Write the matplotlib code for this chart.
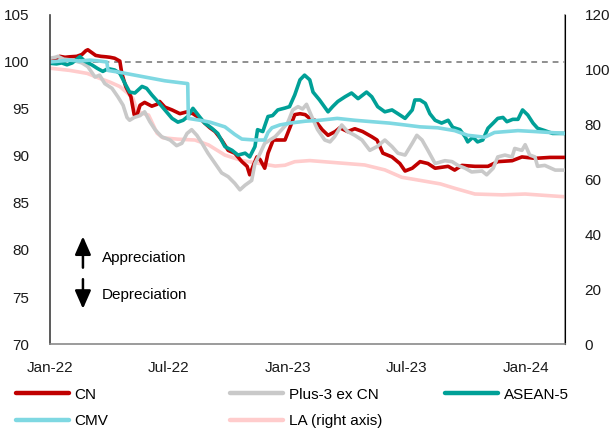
import matplotlib
matplotlib.use("Agg")
import matplotlib.pyplot as plt
import matplotlib.dates as mdates
import pandas as pd
from matplotlib.lines import Line2D

plt.rcParams["font.family"] = ["Liberation Sans", "DejaVu Sans"]
plt.rcParams["font.size"] = 11

# CN (index, left axis)
cn_dates = ["2022-01-01", "2022-01-09", "2022-01-16", "2022-01-24", "2022-01-31", "2022-02-11",
            "2022-02-19", "2022-02-25", "2022-02-28", "2022-03-06", "2022-03-12", "2022-03-20",
            "2022-03-28", "2022-04-03", "2022-04-10", "2022-04-18", "2022-04-21", "2022-04-27",
            "2022-05-05", "2022-05-10", "2022-05-14", "2022-05-19", "2022-05-26", "2022-06-06",
            "2022-06-14", "2022-06-18", "2022-06-26", "2022-07-07", "2022-07-19", "2022-07-30",
            "2022-08-08", "2022-08-19", "2022-08-26", "2022-09-03", "2022-09-11", "2022-09-21",
            "2022-10-01", "2022-10-11", "2022-10-22", "2022-10-30", "2022-11-03", "2022-11-08",
            "2022-11-14", "2022-11-19", "2022-11-26", "2022-12-01", "2022-12-09", "2022-12-16",
            "2022-12-27", "2023-01-04", "2023-01-11", "2023-01-19", "2023-01-27", "2023-02-03",
            "2023-02-11", "2023-02-22", "2023-03-03", "2023-03-14", "2023-03-21", "2023-04-02",
            "2023-04-13", "2023-04-25", "2023-05-09", "2023-05-17", "2023-05-26", "2023-06-09",
            "2023-06-21", "2023-06-29", "2023-07-10", "2023-07-22", "2023-08-03", "2023-08-14",
            "2023-09-03", "2023-09-13", "2023-09-24", "2023-10-14", "2023-11-03", "2023-11-18",
            "2023-12-10", "2023-12-25", "2024-01-14", "2024-02-06", "2024-02-29"]
cn_values = [100.1, 100.3, 100.6, 100.5, 100.55, 100.6, 100.8, 101.2, 101.3, 101.0, 100.7, 100.6,
             100.55, 100.5, 100.4, 100.1, 98.8, 97.4, 96.3, 94.4, 94.3, 95.4, 95.7, 95.3,
             95.5, 95.8, 95.2, 94.9, 94.5, 94.7, 94.5, 94.0, 93.5, 93.0, 92.6, 91.7,
             90.6, 90.3, 89.4, 88.9, 88.0, 88.9, 89.9, 89.6, 88.7, 90.3, 91.7, 91.7,
             91.7, 93.1, 94.4, 94.5, 94.4, 94.0, 93.8, 92.8, 92.2, 92.6, 93.0, 92.6,
             92.9, 92.6, 92.05, 91.7, 90.3, 89.9, 89.2, 88.4, 88.7, 89.4, 89.2, 88.7,
             88.9, 88.5, 89.0, 88.9, 88.9, 89.4, 89.5, 89.9, 89.75, 89.85, 89.85]

# Plus-3 ex CN (index, left axis)
plus3_dates = ["2022-01-01", "2022-01-09", "2022-01-13", "2022-01-22", "2022-02-04", "2022-02-19",
               "2022-02-28", "2022-03-11", "2022-03-18", "2022-03-26", "2022-04-06", "2022-04-15",
               "2022-04-23", "2022-04-29", "2022-05-03", "2022-05-10", "2022-05-19", "2022-05-26",
               "2022-06-03", "2022-06-11", "2022-06-21", "2022-07-04", "2022-07-14", "2022-07-22",
               "2022-07-30", "2022-08-06", "2022-08-14", "2022-08-22", "2022-08-31", "2022-09-11",
               "2022-09-21", "2022-10-01", "2022-10-11", "2022-10-19", "2022-10-27", "2022-11-06",
               "2022-11-11", "2022-11-19", "2022-11-26", "2022-12-04", "2022-12-12", "2022-12-22",
               "2022-12-31", "2023-01-08", "2023-01-16", "2023-01-23", "2023-01-29", "2023-02-06",
               "2023-02-15", "2023-02-26", "2023-03-06", "2023-03-13", "2023-03-24", "2023-04-02",
               "2023-04-13", "2023-04-24", "2023-05-06", "2023-05-17", "2023-05-29", "2023-06-09",
               "2023-06-18", "2023-06-29", "2023-07-10", "2023-07-17", "2023-07-25", "2023-08-03",
               "2023-08-14", "2023-08-29", "2023-09-09", "2023-09-18", "2023-09-29", "2023-10-09",
               "2023-10-25", "2023-11-01", "2023-11-11", "2023-11-18", "2023-11-29", "2023-12-10",
               "2023-12-14", "2023-12-25", "2023-12-30", "2024-01-06", "2024-01-14", "2024-01-18",
               "2024-01-29", "2024-02-14", "2024-02-29"]
plus3_values = [100.4, 100.5, 100.6, 100.3, 100.2, 99.9, 99.5, 98.4, 98.6, 97.7, 97.2, 96.3,
                95.4, 94.1, 93.8, 94.1, 94.3, 94.7, 93.65, 92.8, 92.05, 91.7, 91.1, 91.35,
                92.4, 92.8, 92.2, 91.35, 90.3, 89.2, 88.2, 87.8, 87.1, 86.4, 86.9, 87.4,
                89.2, 90.3, 91.35, 91.7, 92.05, 92.8, 93.5, 94.9, 95.25, 95.0, 95.5, 94.2,
                92.8, 91.7, 91.5, 92.05, 93.3, 92.6, 92.2, 91.7, 90.6, 91.0, 91.7, 91.0,
                90.3, 90.1, 91.35, 92.2, 91.7, 90.6, 89.2, 89.5, 89.4, 89.0, 88.7, 88.3,
                88.4, 88.0, 88.7, 89.9, 90.1, 89.9, 90.8, 90.6, 91.2, 90.1, 89.9, 88.9,
                89.0, 88.5, 88.5]

# ASEAN-5 (index, left axis)
asean_dates = ["2022-01-01", "2022-01-11", "2022-01-19", "2022-01-27", "2022-02-04", "2022-02-16",
               "2022-02-23", "2022-03-06", "2022-03-15", "2022-03-23", "2022-03-31", "2022-04-10",
               "2022-04-18", "2022-04-26", "2022-05-03", "2022-05-11", "2022-05-22", "2022-05-29",
               "2022-06-06", "2022-06-15", "2022-06-26", "2022-07-07", "2022-07-16", "2022-07-24",
               "2022-07-31", "2022-08-08", "2022-08-19", "2022-08-26", "2022-09-06", "2022-09-15",
               "2022-09-26", "2022-10-07", "2022-10-16", "2022-10-27", "2022-11-03", "2022-11-11",
               "2022-11-15", "2022-11-23", "2022-12-01", "2022-12-08", "2022-12-16", "2022-12-27",
               "2023-01-03", "2023-01-11", "2023-01-19", "2023-01-26", "2023-02-03", "2023-02-08",
               "2023-02-18", "2023-03-03", "2023-03-10", "2023-03-18", "2023-03-29", "2023-04-08",
               "2023-04-18", "2023-05-01", "2023-05-09", "2023-05-18", "2023-05-29", "2023-06-09",
               "2023-06-18", "2023-06-29", "2023-07-10", "2023-07-14", "2023-07-22", "2023-07-30",
               "2023-08-06", "2023-08-14", "2023-08-24", "2023-09-03", "2023-09-10", "2023-09-21",
               "2023-09-29", "2023-10-03", "2023-10-11", "2023-10-18", "2023-10-26", "2023-11-03",
               "2023-11-11", "2023-11-18", "2023-11-26", "2023-12-02", "2023-12-11", "2023-12-19",
               "2023-12-26", "2024-01-03", "2024-01-11", "2024-01-18", "2024-01-29", "2024-02-10",
               "2024-02-29"]
asean_values = [99.86, 99.8, 99.9, 99.7, 99.9, 100.57, 100.1, 99.7, 99.3, 99.0, 99.3, 99.15,
                98.8, 97.7, 96.8, 96.7, 97.4, 97.2, 96.5, 95.8, 94.9, 94.0, 93.6, 93.8,
                94.2, 95.07, 94.1, 93.5, 92.95, 92.4, 91.0, 90.6, 90.1, 90.3, 89.9, 91.0,
                92.8, 92.6, 94.2, 94.3, 94.9, 95.1, 95.25, 96.5, 98.1, 98.6, 98.1, 96.8,
                95.96, 94.7, 95.25, 95.8, 96.3, 96.7, 96.1, 96.8, 96.3, 95.25, 94.7, 94.9,
                94.5, 94.0, 94.9, 95.96, 95.96, 95.6, 94.5, 93.8, 93.5, 93.8, 93.05, 92.8,
                92.05, 91.5, 92.0, 91.5, 91.7, 92.95, 93.5, 94.0, 94.1, 93.65, 93.9, 93.9,
                94.9, 94.36, 93.5, 92.95, 92.7, 92.4, 92.4]

# CMV (index, left axis)
cmv_dates = ["2022-01-01", "2022-01-16", "2022-01-31", "2022-02-16", "2022-03-03", "2022-03-18",
             "2022-03-29", "2022-03-31", "2022-04-18", "2022-05-11", "2022-06-03", "2022-06-26",
             "2022-07-19", "2022-07-31", "2022-08-01", "2022-08-19", "2022-09-03", "2022-09-26",
             "2022-10-11", "2022-10-22", "2022-11-11", "2022-11-26", "2022-12-01", "2022-12-07",
             "2022-12-19", "2023-01-04", "2023-01-27", "2023-02-18", "2023-03-17", "2023-04-13",
             "2023-05-09", "2023-06-05", "2023-06-29", "2023-07-22", "2023-08-18", "2023-09-13",
             "2023-10-03", "2023-10-29", "2023-11-13", "2023-12-19", "2024-01-14", "2024-02-06",
             "2024-02-29"]
cmv_values = [100.0, 100.1, 100.2, 100.1, 100.2, 100.1, 100.0, 99.1, 98.9, 98.6, 98.3, 98.0,
              97.8, 97.7, 94.0, 93.8, 93.6, 93.1, 92.3, 91.8, 91.7, 91.7, 92.5, 93.0,
              93.3, 93.5, 93.7, 93.8, 94.0, 93.8, 93.65, 93.5, 93.3, 93.1, 93.0, 92.7,
              92.2, 92.0, 92.5, 92.7, 92.6, 92.5, 92.4]

# LA (index, right axis)
la_dates = ["2022-01-01", "2022-01-31", "2022-02-27", "2022-03-18", "2022-04-03", "2022-04-18",
            "2022-04-30", "2022-05-08", "2022-05-15", "2022-06-01", "2022-06-07", "2022-06-14",
            "2022-06-23", "2022-07-16", "2022-08-11", "2022-09-01", "2022-09-26", "2022-10-22",
            "2022-11-19", "2022-12-12", "2022-12-27", "2023-01-11", "2023-02-03", "2023-03-17",
            "2023-04-28", "2023-05-29", "2023-06-24", "2023-07-19", "2023-08-22", "2023-09-13",
            "2023-10-14", "2023-11-25", "2023-12-30", "2024-01-29", "2024-02-29"]
la_values = [100.6, 99.8, 98.7, 96.9, 95.5, 93.9, 91.5, 89.6, 84.7, 83.5, 80.5, 76.9,
             75.2, 74.7, 74.4, 72.6, 68.9, 66.9, 65.8, 64.9, 65.2, 66.5, 66.9, 66.1,
             65.3, 63.5, 60.8, 59.8, 58.4, 56.8, 54.7, 54.4, 54.7, 54.2, 53.7]

tick_dates = ["2022-01-01", "2022-07-01", "2023-01-01", "2023-07-01", "2024-01-01"]
x_start, x_end = "2022-01-01", "2024-02-29"

C_CN = "#C00000"
C_PLUS3 = "#C9C9C9"
C_ASEAN = "#00A097"
C_CMV = "#7FD8E2"
C_LA = "#FFCCCC"
LW = 2.6

fig = plt.figure(figsize=(6.11, 4.32), dpi=100)
ax = fig.add_axes([0.0818, 0.2037, 0.8429, 0.7616])
ax2 = ax.twinx()
ax.set_zorder(ax2.get_zorder() + 1)
ax.patch.set_visible(False)

ax2.plot(pd.to_datetime(la_dates), la_values, color=C_LA, lw=LW)
ax.plot(pd.to_datetime(cn_dates), cn_values, color=C_CN, lw=LW)
ax.plot(pd.to_datetime(plus3_dates), plus3_values, color=C_PLUS3, lw=LW)
ax.plot(pd.to_datetime(asean_dates), asean_values, color=C_ASEAN, lw=LW)
ax.plot(pd.to_datetime(cmv_dates), cmv_values, color=C_CMV, lw=LW)
ax.axhline(100, color="#8f8f8f", lw=1.4, ls=(0, (3, 2.5)), zorder=0.5)

ax.set_xlim(pd.Timestamp(x_start), pd.Timestamp(x_end))
ax.set_ylim(70, 105)
ax2.set_ylim(0, 120)
ax.set_yticks(range(70, 106, 5))
ax2.set_yticks(range(0, 121, 20))
ax.set_xticks(pd.to_datetime(tick_dates))
ax.xaxis.set_major_formatter(mdates.DateFormatter("%b-%y"))

for a in (ax, ax2):
    a.spines["top"].set_visible(False)
    a.tick_params(length=0, labelsize=11, colors="#1a1a1a")
ax.tick_params(axis="y", pad=15)
ax.tick_params(axis="x", pad=12)
ax2.tick_params(axis="y", pad=14)
ax.spines["left"].set_color("#404040")
ax.spines["bottom"].set_color("#8a8a8a")
ax2.spines["right"].set_color("#8a8a8a")
ax2.spines["left"].set_visible(False)
ax2.spines["bottom"].set_visible(False)
for s in ("left", "bottom"):
    ax.spines[s].set_linewidth(1.2)
ax2.spines["right"].set_linewidth(1.2)

# Direction-of-change annotation
arrow_kw = dict(arrowstyle="-|>,head_length=0.5,head_width=0.22", color="black",
                lw=1.8, mutation_scale=22, shrinkA=0, shrinkB=0)
ax.annotate("", xy=(0.064, 0.327), xytext=(0.064, 0.232), xycoords="axes fraction",
            arrowprops=arrow_kw)
ax.annotate("", xy=(0.064, 0.107), xytext=(0.064, 0.197), xycoords="axes fraction",
            arrowprops=arrow_kw)
ax.text(0.101, 0.261, "Appreciation", transform=ax.transAxes, fontsize=11, va="center", ha="left")
ax.text(0.101, 0.149, "Depreciation", transform=ax.transAxes, fontsize=11, va="center", ha="left")

# Legend laid out in three columns beneath the plot
def handle(c):
    return Line2D([], [], color=c, lw=3.2, solid_capstyle="round")

legend_kw = dict(frameon=False, fontsize=11, handlelength=3.5, handletextpad=0.35,
                 labelspacing=0.82, borderpad=0, borderaxespad=0, loc="upper left")
fig.legend([handle(C_CN), handle(C_CMV)], ["CN", "CMV"],
           bbox_to_anchor=(0.026, 0.103), **legend_kw)
fig.legend([handle(C_PLUS3), handle(C_LA)], ["Plus-3 ex CN", "LA (right axis)"],
           bbox_to_anchor=(0.376, 0.103), **legend_kw)
fig.legend([handle(C_ASEAN)], ["ASEAN-5"],
           bbox_to_anchor=(0.728, 0.103), **legend_kw)

fig.savefig("out.png", dpi=100)
